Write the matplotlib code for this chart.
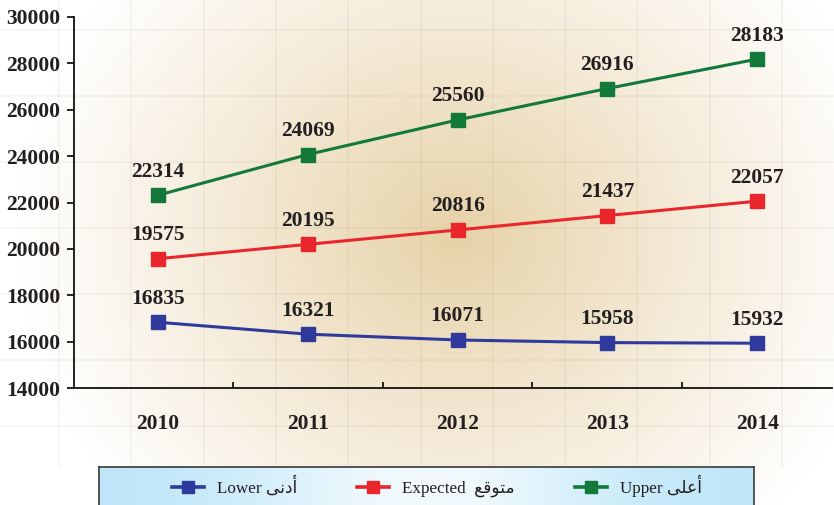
import numpy as np
import matplotlib
matplotlib.use("Agg")
import matplotlib.pyplot as plt
from matplotlib.lines import Line2D
from matplotlib.font_manager import FontProperties

# ---------------- data ----------------
years = ["2010", "2011", "2012", "2013", "2014"]
lower = [16835, 16321, 16071, 15958, 15932]
expected = [19575, 20195, 20816, 21437, 22057]
upper = [22314, 24069, 25560, 26916, 28183]
y_ticks = [14000, 16000, 18000, 20000, 22000, 24000, 26000, 28000, 30000]

# Arabic words in shaped presentation forms (visual order) since matplotlib does not shape Arabic
ar_lower = "\uFEF0\uFEE7\uFEA9\uFE83"          # أدنى
ar_expected = "\uFECA\uFED7\uFEEE\uFE98\uFEE3"  # متوقع
ar_upper = "\uFEF0\uFEE0\uFECB\uFE83"           # أعلى
series_names = ["Lower " + ar_lower, "Expected  " + ar_expected, "Upper " + ar_upper]
colors = ["#2f3a9c", "#e8262b", "#12793b"]

W, H = 834, 505
fig = plt.figure(figsize=(W / 100, H / 100), dpi=100)

# ---------------- background radial gradient + faint grid ----------------
bg = fig.add_axes([0, 0, 1, 1], zorder=-10)
yy, xx = np.mgrid[0:H, 0:W]
r = np.hypot(xx - 455, (yy - 235) * 1.1)
f = np.clip(1 - r / 440, 0, 1) ** 1.05
tan = np.array([231, 210, 168]) / 255
img = 1 - f[..., None] * (1 - tan)
bg.imshow(img, extent=(0, W, H, 0), aspect="auto", interpolation="bilinear")
for gx in np.arange(59, W, 72.3):
    bg.plot([gx, gx], [0, 467], color=(0.55, 0.5, 0.4), alpha=0.08, lw=1.3)
for gy in np.arange(30, 467, 66):
    bg.plot([0, W], [gy, gy], color=(0.55, 0.5, 0.4), alpha=0.08, lw=1.3)
bg.set_xlim(0, W)
bg.set_ylim(H, 0)
bg.axis("off")

# ---------------- legend box with gradient ----------------
lb = fig.add_axes([99 / W, -0.02, (754 - 99) / W, (505 - 467) / H + 0.02], zorder=-5)
t = np.linspace(0, 1, 400)
g = np.exp(-((t - 0.5) / 0.28) ** 2)
edge = np.array([189, 230, 248]) / 255
center = np.array([242, 250, 254]) / 255
row = edge[None, :] + g[:, None] * (center - edge)[None, :]
lb.imshow(row[None, :, :], aspect="auto", extent=(0, 1, 0, 1))
lb.set_xlim(0, 1)
lb.set_ylim(0, 1)
lb.set_xticks([])
lb.set_yticks([])
for s in ["left", "right", "top"]:
    lb.spines[s].set_color("#3a3a3a")
    lb.spines[s].set_linewidth(1.2)
lb.spines["bottom"].set_visible(False)

# ---------------- main axes ----------------
ax = fig.add_axes([74 / W, 1 - 388 / H, (832 - 74) / W, (388 - 17) / H])
ax.patch.set_alpha(0)
x = np.arange(len(years))
lab_font = dict(family="Liberation Serif", weight="bold", size=15.5, color="#231f20")
for vals, c in zip([lower, expected, upper], colors):
    ax.plot(x, vals, color=c, lw=2.2, marker="s", ms=9.5, zorder=3)
    for xi, v in zip(x, vals):
        ax.annotate(f"{v}", (xi, v), xytext=(0, 17), textcoords="offset points",
                    ha="center", va="center", **lab_font)

ax.set_xlim(-0.561, 4.50)
ax.set_ylim(14000, 30000)
ax.set_yticks(y_ticks)
ax.set_yticklabels([str(v) for v in y_ticks])
ax.set_xticks(x)
ax.set_xticklabels(years)
ax.set_xticks(np.arange(len(years) - 1) + 0.5, minor=True)
for lbl in ax.get_xticklabels() + ax.get_yticklabels():
    lbl.set_fontfamily("Liberation Serif")
    lbl.set_fontweight("bold")
    lbl.set_fontsize(15.5)
    lbl.set_color("#231f20")
ax.tick_params(axis="x", which="major", length=0, pad=19)
ax.tick_params(axis="x", which="minor", direction="in", length=4, width=1.2)
ax.tick_params(axis="y", which="major", direction="out", length=5, width=1.2, pad=5)
for s in ["top", "right"]:
    ax.spines[s].set_visible(False)
for s in ["left", "bottom"]:
    ax.spines[s].set_linewidth(1.3)
    ax.spines[s].set_color("#111111")

# ---------------- legend ----------------
handles = [Line2D([], [], color=c, lw=2.6, marker="s", ms=8) for c in colors]
fp = FontProperties(family=["Liberation Serif", "DejaVu Sans"], size=12.3)
leg = fig.legend(handles, series_names, loc="center", bbox_to_anchor=(0.524, 0.038),
                 ncol=3, frameon=False, prop=fp, handlelength=1.87,
                 handletextpad=0.76, columnspacing=3.5)
for txt in leg.get_texts():
    txt.set_color("#231f20")

fig.savefig("out.png", dpi=100)
